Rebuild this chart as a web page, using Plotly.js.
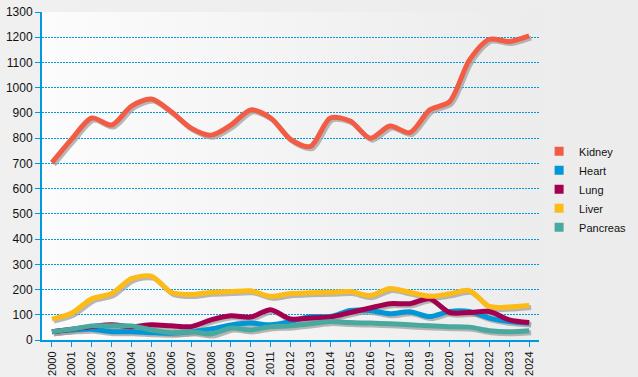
<!DOCTYPE html>
<html><head><meta charset="utf-8">
<script src="https://cdn.plot.ly/plotly-3.0.1.min.js"></script>
<style>
html,body{margin:0;padding:0;background:#ededed;}
#wrap{position:relative;width:638px;height:377px;background:linear-gradient(90deg,#f0f0f0 0%,#ececec 100%);}
#bg{position:absolute;left:42px;top:12px;width:498px;height:328px;background:linear-gradient(90deg,#fcfcfc 0%,#f2f2f2 60%,#ececec 100%);}
#chart{position:absolute;left:0;top:0;width:638px;height:377px;}
</style></head>
<body><div id="wrap"><div id="bg"></div><div id="chart"></div></div>
<script>
const years = ["2000","2001","2002","2003","2004","2005","2006","2007","2008","2009","2010","2011","2012","2013","2014","2015","2016","2017","2018","2019","2020","2021","2022","2023","2024"];
const kidney = [703,797,880,852,927,955,905,840,812,852,912,880,795,767,880,868,800,848,822,912,945,1110,1192,1183,1205];
const heart = [33,40,43,33,33,29,27,33,44,60,67,60,73,93,93,117,117,104,112,93,113,113,87,73,67];
const lung = [33,43,53,60,53,60,56,53,80,96,91,120,83,87,91,109,127,144,144,163,109,109,113,80,69];
const liver = [83,107,163,184,243,253,189,180,189,192,195,173,184,187,189,192,176,204,189,173,183,196,133,131,137];
const pancreas = [33,43,56,56,56,40,29,33,24,47,40,53,56,64,73,69,67,64,60,56,53,51,37,33,37];
const names = ["Kidney","Heart","Lung","Liver","Pancreas"];
const colors = ["#f25c45","#0096d8","#a3004f","#fdbb16","#4aa99f"];
const series = [kidney, heart, lung, liver, pancreas];

const traces = [];
// shadows (primary hidden axes, shifted slightly down-right)
series.forEach((s,i)=>{
  traces.push({x:years,y:s,type:'scatter',mode:'lines',xaxis:'x',yaxis:'y',
    line:{color:'rgba(160,160,160,0.75)',width:5,shape:'spline',smoothing:0.8},
    hoverinfo:'skip',showlegend:false});
});
series.forEach((s,i)=>{
  traces.push({x:years,y:s,type:'scatter',mode:'lines',name:names[i],xaxis:'x2',yaxis:'y2',
    line:{color:colors[i],width:5,shape:'spline',smoothing:0.8},showlegend:false});
});
names.forEach((n,i)=>{
  traces.push({x:[null],y:[null],type:'scatter',mode:'markers',name:n,xaxis:'x2',yaxis:'y2',
    marker:{symbol:'square',size:9,color:colors[i]},showlegend:true});
});

const layout = {
  width:638,height:377,
  margin:{l:42,r:98,t:12,b:37},
  paper_bgcolor:'rgba(0,0,0,0)',plot_bgcolor:'rgba(0,0,0,0)',
  font:{family:'"Liberation Sans", Arial, sans-serif',size:11,color:'#111'},
  xaxis:{type:'category',range:[-0.6,24.4],visible:false},
  yaxis:{range:[8,1308],visible:false},
  xaxis2:{type:'category',overlaying:'x',anchor:'y2',side:'bottom',range:[-0.5,24.5],tickangle:-90,showgrid:false,zeroline:false,
    showline:true,linecolor:'#0099dd',linewidth:2,ticks:'outside',ticklen:5,tickcolor:'#0099dd',
    tickfont:{size:11}},
  yaxis2:{overlaying:'y',anchor:'x2',side:'left',range:[0,1300],dtick:100,showgrid:true,gridcolor:'#0099e0',griddash:'2px,1px',gridwidth:1,
    zeroline:false,showline:true,linecolor:'#0099dd',linewidth:2,ticks:'outside',ticklen:5,tickcolor:'#0099dd',
    tickfont:{size:12}},
  legend:{xref:'container',yref:'container',x:0.845,y:0.637,xanchor:'left',yanchor:'top',bgcolor:'rgba(0,0,0,0)',font:{size:11},itemwidth:30},
  showlegend:true
};
Plotly.newPlot('chart',traces,layout,{displayModeBar:false,staticPlot:true});
</script></body></html>
